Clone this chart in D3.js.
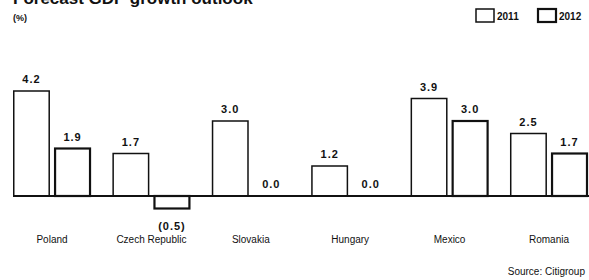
<!DOCTYPE html>
<html><head><meta charset="utf-8">
<script src="https://cdn.jsdelivr.net/npm/d3@7"></script>
<style>body{margin:0;background:#fff}svg{display:block}</style>
</head><body>
<svg id="c" width="589" height="280"></svg>
<script>
const title = "Forecast GDP growth outlook";
const unit = "(%)";
const source = "Source: Citigroup";
const categories = ["Poland","Czech Republic","Slovakia","Hungary","Mexico","Romania"];
const series = ["2011","2012"];
const values2011 = [4.2, 1.7, 3.0, 1.2, 3.9, 2.5];
const values2012 = [1.9, -0.5, 0.0, 0.0, 3.0, 1.7];
const labels2011 = ["4.2","1.7","3.0","1.2","3.9","2.5"];
const labels2012 = ["1.9","(0.5)","0.0","0.0","3.0","1.7"];

const svg = d3.select("#c");
const font = "'Liberation Sans Narrow', 'Liberation Sans', Arial, sans-serif";
const x0 = d3.scaleBand().domain(categories).range([13, 588]).paddingInner(0.215).paddingOuter(0);
const x1 = d3.scaleBand().domain(series).range([0, x0.bandwidth()]).paddingInner(0.1).paddingOuter(0);
const y = d3.scaleLinear().domain([0, 4.2]).range([196, 91]);

const data = [];
categories.forEach((c,i)=>{
  data.push({c, s:"2011", v:values2011[i], l:labels2011[i]});
  data.push({c, s:"2012", v:values2012[i], l:labels2012[i]});
});

// title (partially cut off at the top, as in the reference)
svg.append("text").attr("x",13).attr("y",4).attr("font-family","'Liberation Sans', Arial, sans-serif")
  .attr("font-size",17).attr("font-weight","bold").attr("fill","#111").text(title);
svg.append("text").attr("x",13).attr("y",21).attr("font-family",font).attr("font-size",9)
  .attr("font-weight","bold").attr("fill","#111").text(unit);

// bars
const g = svg.append("g");
g.selectAll("rect").data(data.filter(d=>d.v!==0)).join("rect")
  .attr("x", d=>x0(d.c)+x1(d.s) + (d.s==="2012"?1:0.75))
  .attr("width", d=>x1.bandwidth() - (d.s==="2012"?2:1.5))
  .attr("y", d=>Math.min(y(d.v), y(0)))
  .attr("height", d=>Math.abs(y(d.v)-y(0)))
  .attr("fill","#fff").attr("stroke","#111")
  .attr("stroke-width", d=>d.s==="2012"?2.2:1.5);

// baseline
svg.append("line").attr("x1",13).attr("x2",589).attr("y1",y(0)).attr("y2",y(0))
  .attr("stroke","#111").attr("stroke-width",2);

// value labels
g.selectAll("text.v").data(data).join("text").attr("class","v")
  .attr("x", d=>x0(d.c)+x1(d.s)+x1.bandwidth()/2)
  .attr("y", d=>d.v<0 ? y(d.v)+21 : y(d.v)-8)
  .attr("text-anchor","middle").attr("font-family",font).attr("font-size",11)
  .attr("font-weight","bold").attr("letter-spacing",1).attr("fill","#111").text(d=>d.l);

// category axis labels
const ax = svg.append("g").attr("transform","translate(0,225)")
  .call(d3.axisBottom(x0).tickSize(0).tickPadding(0));
ax.select(".domain").remove();
ax.selectAll("text").attr("font-family",font).attr("font-size",10).attr("fill","#111").attr("dy","18");

// legend
const leg = svg.append("g");
const lx = [476, 538];
series.forEach((s,i)=>{
  leg.append("rect").attr("x",lx[i]).attr("y",9).attr("width",18).attr("height",13)
    .attr("fill","#fff").attr("stroke","#111").attr("stroke-width", i===1?2.2:1.5);
  leg.append("text").attr("x",lx[i]+21).attr("y",20).attr("font-family",font).attr("font-size",10)
    .attr("font-weight","bold").attr("fill","#111").text(s);
});

// source
svg.append("text").attr("x",585).attr("y",275).attr("text-anchor","end").attr("font-family",font)
  .attr("font-size",10).attr("fill","#111").text(source);
</script>
</body></html>
